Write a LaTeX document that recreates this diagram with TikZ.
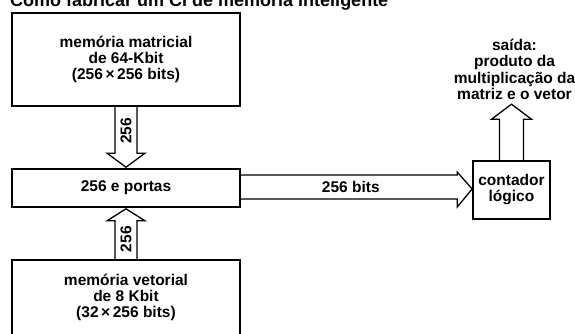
\documentclass[tikz,border=0pt]{standalone}
\usepackage{fontspec}
\setmainfont{Liberation Sans}
\usetikzlibrary{calc}

\begin{document}
\begin{tikzpicture}[x=1pt, y=1pt, line join=miter]
  \tikzset{
    caixa/.style={draw, line width=1.6pt, minimum width=228pt, align=center,
      inner sep=0pt, font=\fontsize{15.5}{16}\selectfont\bfseries},
    seta/.style={draw, line width=1.3pt},
    rotulo/.style={font=\fontsize{15.5}{16}\selectfont\bfseries, inner sep=1pt},
  }
  \useasboundingbox (0,0) rectangle (575,333);

  \node[anchor=base west, inner sep=0pt, font=\fontsize{18}{20}\selectfont\bfseries]
    (titulo) at (10,326.5) {Como fabricar um CI de memória inteligente};

  % as tres caixas da esquerda
  \node[caixa, minimum height=93pt] (matriz) at (126,273.5)
    {memória matricial\\de 64-Kbit\\(256\,×\,256 bits)};
  \node[caixa, minimum height=38pt] (portas) at (126,145) {256 e portas};
  \node[caixa, minimum height=75pt] (vetor) at (126,35.5)
    {memória vetorial\\de 8 Kbit\\(32\,×\,256 bits)};

  \node[caixa, minimum width=77pt, minimum height=58pt] (contador) at (511.5,143)
    {contador\\lógico};
  \node[rotulo, anchor=south, align=center, inner sep=0pt, font=\fontsize{15.5}{16.5}\selectfont\bfseries]
    (saida) at ($(contador.north)+(3,60)$)
    {saída:\\produto da\\multiplicação da\\matriz e o vetor};

  % setas largas
  \draw[seta] ($(matriz.south)+(-11,0)$) -- ($(portas.north)+(-11,15)$)
    -- ($(portas.north)+(-19,15)$) -- ($(portas.north)+(0,1)$)
    -- ($(portas.north)+(19,15)$) -- ($(portas.north)+(11,15)$)
    -- ($(matriz.south)+(11,0)$);
  \node[rotulo, rotate=90] (n256a) at ($(matriz.south)+(0,-24)$) {256};

  \draw[seta] ($(vetor.north)+(-11,0)$) -- ($(portas.south)+(-11,-13)$)
    -- ($(portas.south)+(-19,-13)$) -- ($(portas.south)+(0,-1)$)
    -- ($(portas.south)+(19,-13)$) -- ($(portas.south)+(11,-13)$)
    -- ($(vetor.north)+(11,0)$);
  \node[rotulo, rotate=90] (n256b) at ($(vetor.north)+(0,20)$) {256};

  \draw[seta] ($(portas.east)+(0,13)$) -- ($(contador.west)+(-15,15)$)
    -- ($(contador.west)+(-15,18)$) -- ($(contador.west)+(0,1)$)
    -- ($(contador.west)+(-15,-17)$) -- ($(contador.west)+(-15,-9)$)
    -- ($(portas.east)+(0,-11)$);
  \node[rotulo] (bits) at ($(portas.east)+(110,1)$) {256 bits};

  \draw[seta] ($(contador.north)+(-12,0)$) -- ($(contador.north)+(-12,41)$)
    -- ($(contador.north)+(-20,41)$) -- ($(saida.south)+(-3,-4)$)
    -- ($(contador.north)+(20,41)$) -- ($(contador.north)+(12,41)$)
    -- ($(contador.north)+(12,0)$);
\end{tikzpicture}
\end{document}
